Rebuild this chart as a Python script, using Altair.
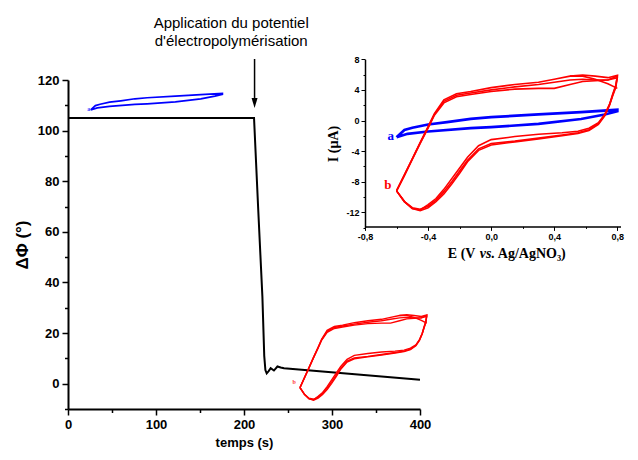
import altair as alt
import pandas as pd

# ---------------- data ----------------
# main trace: phase shift vs time
time_s = [0, 211.4, 216, 220.9, 223, 224.3, 225.8, 228, 230.3, 234, 238, 241.7, 245.5, 400]
dphi = [105, 105, 70, 34.4, 11, 5.4, 4.1, 5.0, 6.1, 5.2, 6.8, 6.4, 6.1, 1.6]

# inset CV a (blue)
blue_E = [-0.60, -0.55, -0.50, -0.40, -0.28, -0.13, 0.00, 0.30, 0.57, 0.80,
          0.80, 0.72, 0.57, 0.30, 0.00, -0.13, -0.40, -0.53, -0.60]
blue_I = [-2.2, -1.25, -0.95, -0.52, -0.22, 0.22, 0.44, 0.80, 1.10, 1.40,
          1.20, 0.78, 0.20, -0.44, -0.87, -1.00, -1.44, -1.74, -2.20]

# inset CV b (red), three cycles
red_E_fwd = [-0.60, -0.55, -0.50, -0.45, -0.40, -0.36, -0.30, -0.22, -0.13, 0.00,
             0.15, 0.30, 0.40, 0.50, 0.58, 0.66, 0.74, 0.80]
red_I_fwd_1 = [-9.2, -7.1, -5.0, -2.9, -0.8, 0.9, 2.7, 3.5, 3.8, 4.3, 4.7, 5.0, 5.4, 5.8, 5.95, 5.8, 5.6, 5.9]
red_I_fwd_2 = [-9.2, -7.1, -5.0, -2.9, -0.9, 0.8, 2.5, 3.3, 3.6, 4.0, 4.4, 4.7, 5.0, 5.3, 5.4, 5.3, 5.3, 5.6]
red_I_fwd_3 = [-9.2, -7.2, -5.1, -3.0, -1.0, 0.7, 2.3, 3.1, 3.4, 3.8, 4.1, 4.2, 4.2, 4.7, 5.1, 5.2, 5.3, 5.8]
red_E_rev = [0.80, 0.79, 0.77, 0.75, 0.72, 0.68, 0.62, 0.55, 0.45, 0.30, 0.15, 0.00,
             -0.08, -0.15, -0.20, -0.25, -0.30, -0.35, -0.40, -0.45, -0.50, -0.55, -0.60]
red_I_rev_1 = [5.9, 4.6, 3.4, 2.1, 0.8, -0.3, -1.0, -1.4, -1.6, -1.8, -2.1, -2.5,
               -3.3, -4.8, -6.2, -7.6, -9.0, -10.2, -11.0, -11.7, -11.5, -10.6, -9.2]
red_I_rev_2 = [5.6, 4.3, 3.2, 2.0, 0.7, -0.4, -1.2, -1.6, -1.9, -2.3, -2.7, -3.0,
               -3.7, -5.2, -6.6, -8.0, -9.3, -10.4, -11.2, -11.6, -11.4, -10.6, -9.2]
red_I_rev_3 = [5.8, 4.5, 3.3, 2.0, 0.6, -0.5, -1.3, -1.7, -2.0, -2.4, -2.8, -3.2,
               -3.9, -5.4, -6.9, -8.3, -9.6, -10.6, -11.4, -11.8, -11.5, -10.6, -9.2]
red_extra_E = [0.50, 0.58, 0.66, 0.74, 0.80]
red_extra_I = [5.8, 5.8, 5.4, 4.8, 4.2]

annotation_lines = ["Application du potentiel", "d'électropolymérisation"]
inset_xtitle_parts = ["E (V ", "vs.", " Ag/AgNO₃)"]

# placement of the miniature CV copies on the main chart (t = t0 + kt*(E+0.6), phi = p0 + kp*(I - I0))
blue_place = dict(t0=25.8, kt=106.9, p0=108.15, kp=1.83, I0=-2.2)
red_place = dict(t0=263.6, kt=102.9, p0=-1.57, kp=1.902, I0=-9.2)

# ---------------- tables ----------------
blue_df = pd.DataFrame({"E": blue_E, "I": blue_I, "cyc": "a", "idx": range(len(blue_E))})
rows = []
for c, (fw, rv) in enumerate([(red_I_fwd_1, red_I_rev_1), (red_I_fwd_2, red_I_rev_2), (red_I_fwd_3, red_I_rev_3)]):
    Es = red_E_fwd + red_E_rev
    Is = fw + rv
    for k, (e, i) in enumerate(zip(Es, Is)):
        rows.append({"E": e, "I": i, "cyc": f"b{c}", "idx": k})
for k, (e, i) in enumerate(zip(red_extra_E, red_extra_I)):
    rows.append({"E": e, "I": i, "cyc": "bx", "idx": k})
red_df = pd.DataFrame(rows)


def place(df, p):
    d = df.copy()
    d["t"] = p["t0"] + p["kt"] * (d["E"] + 0.6)
    d["phi"] = p["p0"] + p["kp"] * (d["I"] - p["I0"])
    return d


blue_small = place(blue_df, blue_place)
red_small = place(red_df, red_place)
main_df = pd.DataFrame({"t": time_s, "phi": dphi})
ann_df = pd.DataFrame({"t": [185.5, 185.5], "phi": [140.5, 133.4], "txt": annotation_lines})
arrow_df = pd.DataFrame({"t": [212.0], "phi": [128.3], "phi2": [112.9]})
head_df = pd.DataFrame({"t": [212.0], "phi": [110.9]})
small_lab = pd.DataFrame({"t": [23.5, 257.0], "phi": [108.6, 0.6], "txt": ["a", "b"], "col": ["#3b3bff", "#ff4040"]})
inset_lab = pd.DataFrame({"E": [-0.637, -0.655], "I": [-2.05, -8.37], "txt": ["a", "b"], "col": ["#0000ff", "#ff0000"]})

SANS = "Liberation Sans"
SERIF = "Liberation Serif"

common = dict(domain=True, ticks=True, labels=True, grid=False, labelFlush=False,
              domainColor="black", tickColor="black", labelColor="black", titleColor="black")

main_x_axis = alt.Axis(
    values=list(range(0, 401, 50)),
    labelExpr="datum.value % 100 === 0 ? datum.label : ''",
    tickSize={"condition": {"test": "datum.value % 100 !== 0", "value": 3.5}, "value": 6},
    title="temps (s)", titleFont=SANS, titleFontSize=13, titleFontWeight="bold",
    labelFont=SANS, labelFontSize=13, labelFontWeight="bold",
    domainWidth=2, tickWidth=1.5, labelPadding=3, titlePadding=5, **common,
)
main_y_axis = alt.Axis(
    values=list(range(-10, 121, 10)),
    labelExpr="datum.value % 20 === 0 ? datum.label : ''",
    tickSize={"condition": {"test": "datum.value % 20 !== 0", "value": 3.5}, "value": 6},
    title="ΔΦ (°)", titleFont=SANS, titleFontSize=17, titleFontWeight="bold",
    labelFont=SANS, labelFontSize=13, labelFontWeight="bold",
    domainWidth=2, tickWidth=1.5, labelPadding=3, titlePadding=6, **common,
)
X = alt.X("t:Q", scale=alt.Scale(domain=[0, 400], nice=False, zero=False), axis=main_x_axis)
Y = alt.Y("phi:Q", scale=alt.Scale(domain=[-10, 120], nice=False, zero=False), axis=main_y_axis)

black = alt.Chart(main_df).mark_line(color="black", strokeWidth=2).encode(x=X, y=Y)
bsmall = alt.Chart(blue_small).mark_line(color="#0000ff", strokeWidth=1.7).encode(
    x=X, y=Y, detail="cyc:N", order="idx:Q")
rsmall = alt.Chart(red_small).mark_line(color="#ff0000", strokeWidth=1.4).encode(
    x=X, y=Y, detail="cyc:N", order="idx:Q")
ann = alt.Chart(ann_df).mark_text(font=SANS, fontSize=15, color="black", align="center", baseline="alphabetic").encode(
    x=X, y=Y, text="txt:N")
arrow = alt.Chart(arrow_df).mark_rule(color="black", strokeWidth=1.5).encode(x=X, y=Y, y2="phi2:Q")
head = alt.Chart(head_df).mark_point(shape="M-0.6,-1L0.6,-1L0,1Z", size=100, filled=True, color="black", opacity=1).encode(x=X, y=Y)
slab = alt.Chart(small_lab).mark_text(font=SERIF, fontSize=6, fontWeight="bold").encode(
    x=X, y=Y, text="txt:N", color=alt.Color("col:N", scale=None))

main = alt.layer(black, bsmall, rsmall, ann, arrow, head, slab)

# ---------------- inset ----------------
ins_x_axis = alt.Axis(
    orient="bottom", offset=-182.6,
    values=[-0.8, -0.6, -0.4, -0.2, 0.0, 0.2, 0.4, 0.6, 0.8],
    labelExpr="round(datum.value*10) % 4 === 0 ? replace((datum.value < 0 ? '-' : '') + format(abs(datum.value), '.1f'), '.', ',') : ''",
    tickSize={"condition": {"test": "round(datum.value*10) % 4 !== 0", "value": 2}, "value": 4},
    title="",
    labelFont=SANS, labelFontSize=9, labelFontWeight="bold",
    domainWidth=1.5, tickWidth=1, labelPadding=2, **common,
)
ins_y_axis = alt.Axis(
    orient="left", offset=-297,
    values=list(range(-14, 9, 2)),
    labelExpr="datum.value % 4 === 0 ? (datum.value < 0 ? '-' : '') + abs(datum.value) : ''",
    tickSize={"condition": {"test": "datum.value % 4 !== 0", "value": 2}, "value": 4},
    title="I (µA)", titleFont=SERIF, titleFontSize=14, titleFontWeight="bold",
    labelFont=SANS, labelFontSize=9, labelFontWeight="bold",
    domainWidth=1.5, tickWidth=1, labelPadding=2, titlePadding=5, **common,
)
XI = alt.X("E:Q", scale=alt.Scale(domain=[-0.8, 0.82], range=[297, 552.5], nice=False, zero=False), axis=ins_x_axis)
YI = alt.Y("I:Q", scale=alt.Scale(domain=[-14, 8], range=[147.6, -20.7], nice=False, zero=False), axis=ins_y_axis)

iblue = alt.Chart(blue_df).mark_line(color="#0000ff", strokeWidth=2.7).encode(x=XI, y=YI, detail="cyc:N", order="idx:Q")
ired = alt.Chart(red_df).mark_line(color="#ff0000", strokeWidth=1.6).encode(x=XI, y=YI, detail="cyc:N", order="idx:Q")
ilab = alt.Chart(inset_lab).mark_text(font=SERIF, fontSize=13, fontWeight="bold", align="center", baseline="middle").encode(
    x=XI, y=YI, text="txt:N", color=alt.Color("col:N", scale=None))

# inset x title, in three pieces so that "vs." can be italic
title_pos = dict(E=-0.275, I=-18.0)
t1 = alt.Chart(pd.DataFrame([{**title_pos, "txt": inset_xtitle_parts[0]}])).mark_text(
    font=SERIF, fontSize=14, fontWeight="bold", align="left", baseline="alphabetic", color="black"
).encode(x=XI, y=YI, text="txt:N")
t2 = alt.Chart(pd.DataFrame([{**title_pos, "txt": inset_xtitle_parts[1]}])).mark_text(
    font=SERIF, fontSize=14, fontWeight="bold", fontStyle="italic", align="left", baseline="alphabetic", color="black", dx=32
).encode(x=XI, y=YI, text="txt:N")
t3 = alt.Chart(pd.DataFrame([{**title_pos, "txt": inset_xtitle_parts[2]}])).mark_text(
    font=SERIF, fontSize=14, fontWeight="bold", align="left", baseline="alphabetic", color="black", dx=50
).encode(x=XI, y=YI, text="txt:N")

inset = alt.layer(iblue, ired, ilab, t1, t2, t3)

chart = alt.layer(main, inset).resolve_scale(x="independent", y="independent").properties(
    width=352, height=329,
    background="white",
    padding={"left": 5, "top": 8, "right": 5, "bottom": 2},
).configure_view(stroke="transparent", strokeWidth=0).configure_axis(
    domain=False, ticks=False, labels=False, grid=False
)

chart.save("out.html", embed_options={"renderer": "svg", "actions": False})
